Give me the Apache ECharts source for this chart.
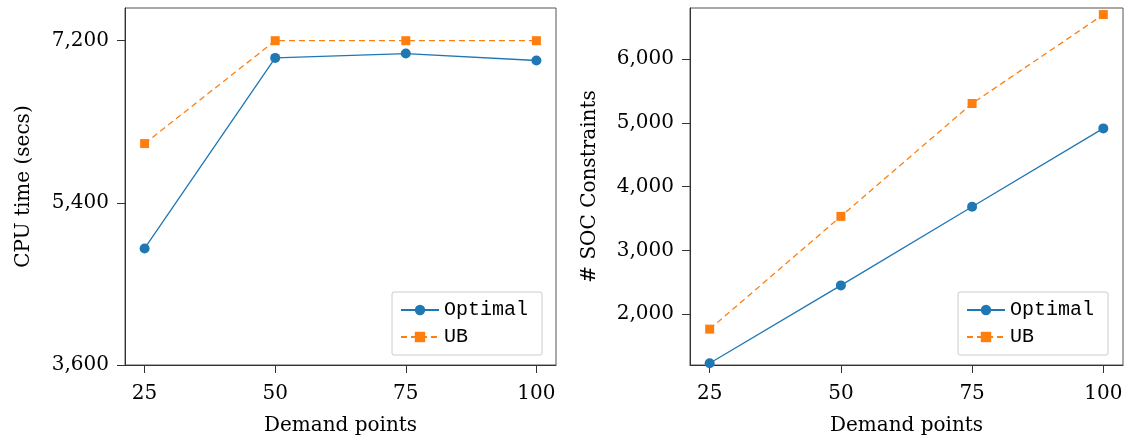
<!DOCTYPE html>
<html>
<head>
<meta charset="utf-8">
<script src="https://cdn.jsdelivr.net/npm/echarts@6/dist/echarts.min.js"></script>
<style>
  html, body { margin: 0; padding: 0; background: #fff; }
  #chart { width: 1126px; height: 441px; }
</style>
</head>
<body>
<div id="chart"></div>
<script>
var demand = [25, 50, 75, 100];
var cpuOptimal = [4894, 7009, 7057, 6980];
var cpuUB = [6058, 7200, 7200, 7200];
var socOptimal = [1231, 2452, 3685, 4913];
var socUB = [1766, 3534, 5303, 6697];
var cpuTicks = [3600, 5400, 7200];
var socTicks = [2000, 3000, 4000, 5000, 6000];

var blue = '#1f77b4';
var orange = '#ff7f0e';
var serif = 'DejaVu Serif';

function pairs(xs, ys) {
  return xs.map(function (x, i) { return [x, ys[i]]; });
}

function fmt(v) {
  return Number(v).toLocaleString('en-US');
}

function xAxisFor(idx) {
  return {
    type: 'value', gridIndex: idx, min: 21.25, max: 103.75,
    name: 'Demand points', nameLocation: 'middle', nameGap: 51,
    nameTextStyle: { fontFamily: serif, fontSize: 20, color: '#000' },
    axisLine: { show: true, lineStyle: { color: '#333', width: 1 } },
    axisTick: { show: true, length: 8, customValues: demand, lineStyle: { color: '#333' } },
    axisLabel: { customValues: demand, margin: 19, fontFamily: serif, fontSize: 20, color: '#000' },
    splitLine: { show: false }
  };
}

function yAxisFor(idx, name, min, max, ticks, gap) {
  return {
    type: 'value', gridIndex: idx, min: min, max: max,
    name: name, nameLocation: 'middle', nameGap: gap,
    nameTextStyle: { fontFamily: serif, fontSize: 20, color: '#000' },
    axisLine: { show: true, lineStyle: { color: '#333', width: 1 } },
    axisTick: { show: true, length: 8, customValues: ticks, lineStyle: { color: '#333' } },
    axisLabel: { customValues: ticks, margin: 16, fontFamily: serif, fontSize: 20, color: '#000', formatter: fmt },
    splitLine: { show: false }
  };
}

function legendAt(left) {
  return {
    data: ['Optimal', 'UB'], orient: 'vertical', left: left, top: 292,
    padding: [8, 14, 8, 8], itemWidth: 38, itemHeight: 13, itemGap: 7,
    borderColor: '#ccc', borderWidth: 1, borderRadius: 2, backgroundColor: '#fff',
    textStyle: { fontFamily: 'Liberation Mono', fontSize: 20, color: '#000' }
  };
}

function lineSeries(name, idx, data, color, symbol, size, dashed) {
  return {
    name: name, type: 'line', xAxisIndex: idx, yAxisIndex: idx,
    data: data, symbol: symbol, symbolSize: size,
    itemStyle: { color: color },
    lineStyle: { color: color, width: 1.3, type: dashed ? [6, 4] : 'solid' },
    emphasis: { disabled: true }, animation: false
  };
}

var chart = echarts.init(document.getElementById('chart'));

var option = {
  backgroundColor: '#fff',
  grid: [
    { left: 125, right: 570, top: 8, bottom: 75, show: true, borderColor: '#555', borderWidth: 1, containLabel: false },
    { left: 690, right: 3, top: 8, bottom: 75, show: true, borderColor: '#555', borderWidth: 1, containLabel: false }
  ],
  legend: [legendAt(392), legendAt(958)],
  xAxis: [xAxisFor(0), xAxisFor(1)],
  yAxis: [
    yAxisFor(0, 'CPU time (secs)', 3600, 7563, cpuTicks, 91),
    yAxisFor(1, '# SOC Constraints', 1204, 6800, socTicks, 90)
  ],
  series: [
    lineSeries('Optimal', 0, pairs(demand, cpuOptimal), blue, 'circle', 10, false),
    lineSeries('UB', 0, pairs(demand, cpuUB), orange, 'rect', 9, true),
    lineSeries('Optimal', 1, pairs(demand, socOptimal), blue, 'circle', 10, false),
    lineSeries('UB', 1, pairs(demand, socUB), orange, 'rect', 9, true)
  ]
};

chart.setOption(option);
</script>
</body>
</html>
